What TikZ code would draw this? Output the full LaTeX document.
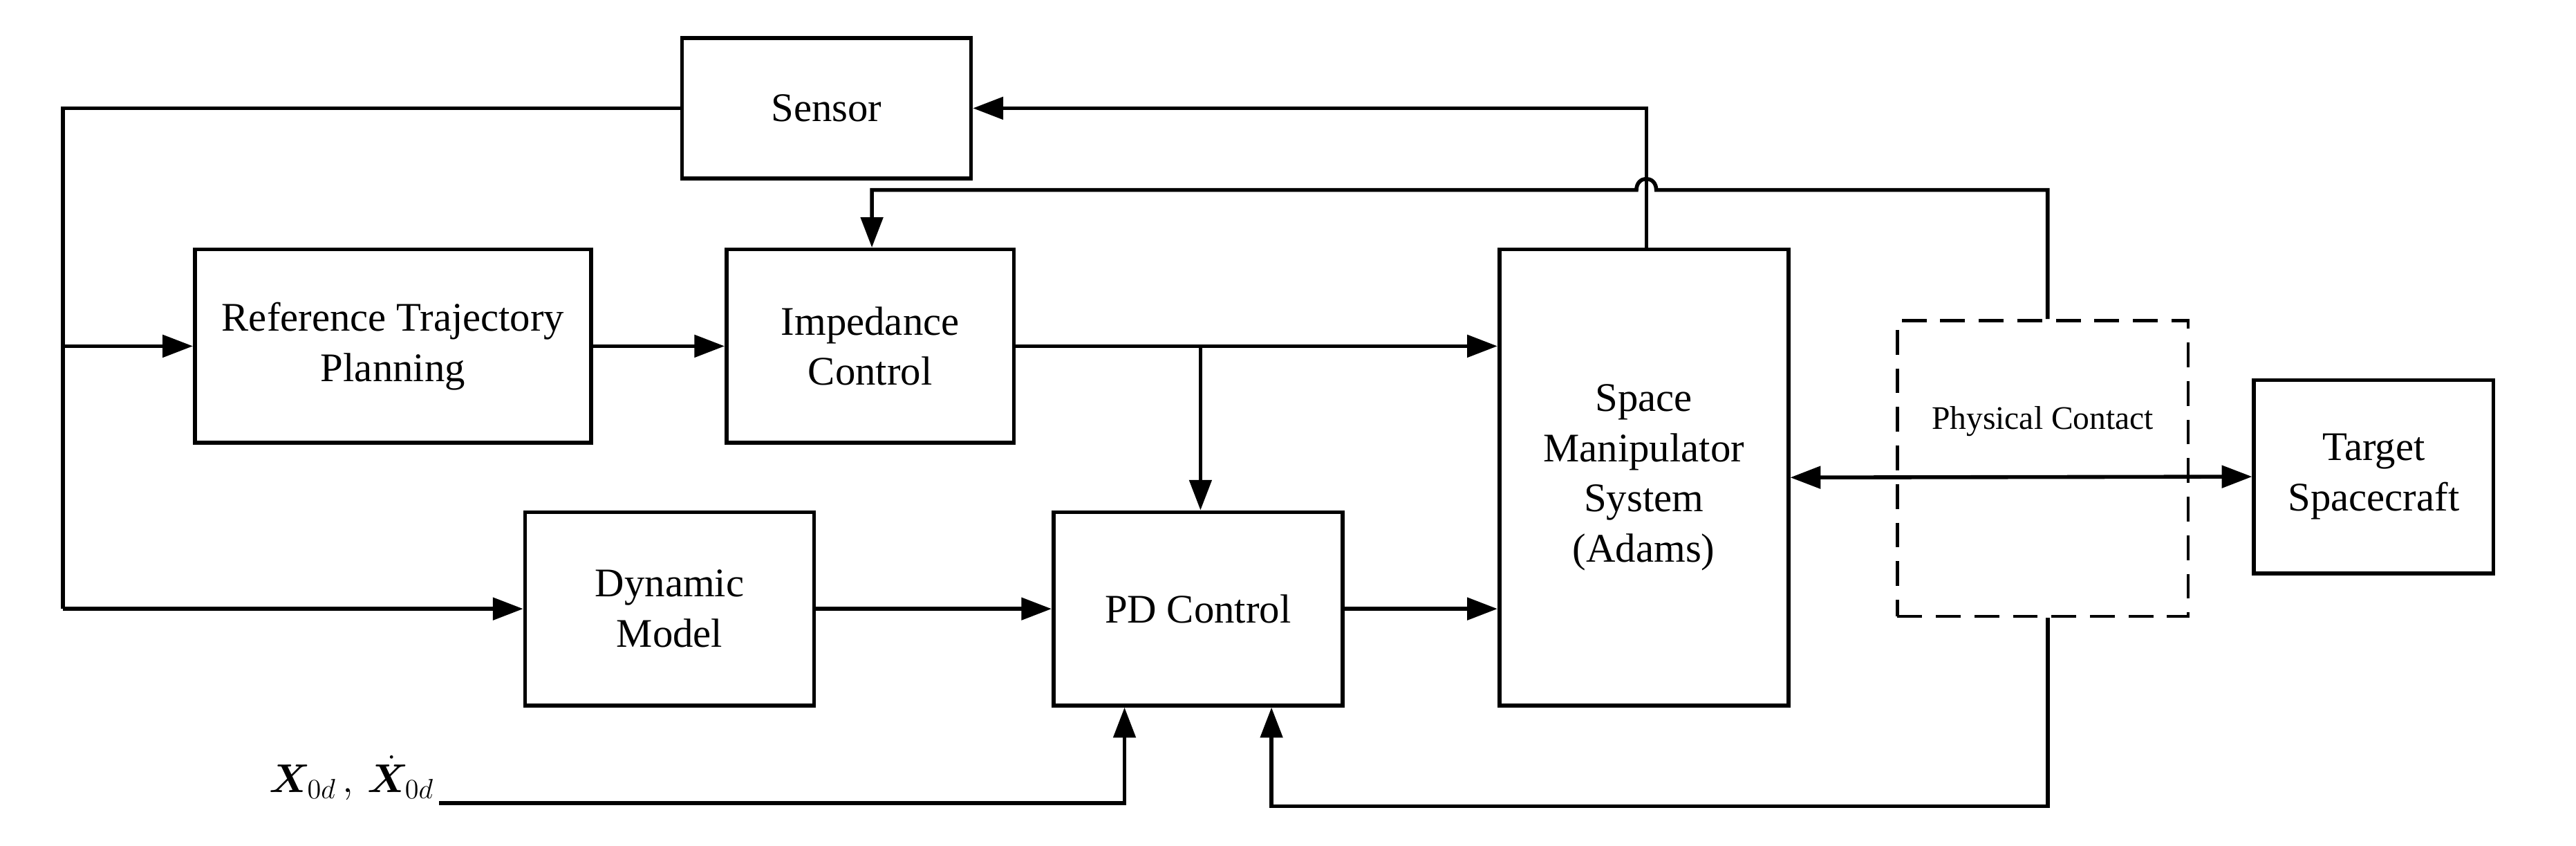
\documentclass[tikz,border=0pt]{standalone}
\usepackage{amsmath,bm}
\usepackage{fontspec}
\setmainfont{Liberation Serif}
\usetikzlibrary{arrows.meta}
\begin{document}
\begin{tikzpicture}[x=0.03cm,y=-0.03cm,
  box/.style={draw,line width=2pt,align=center,inner sep=0pt,font=\fontsize{21}{26}\selectfont},
  ln/.style={line width=2pt},
  ar/.style={ln,-{Triangle[length=0.55cm,width=0.4cm]}},
  dar/.style={ln,{Triangle[length=0.55cm,width=0.4cm]}-{Triangle[length=0.55cm,width=0.4cm]}}]
\useasboundingbox (0,0) rectangle (1560,512);
\node[box,minimum width=5.25cm,minimum height=2.55cm] (sen) at (500.5,65.5) {Sensor};
\node[box,minimum width=7.2cm,minimum height=3.51cm] (ref) at (238,209.5) {Reference Trajectory\\Planning};
\node[box,minimum width=5.22cm,minimum height=3.51cm] (imp) at (527,209.5) {Impedance\\Control};
\node[box,minimum width=5.25cm,minimum height=8.28cm] (sms) at (995.5,289) {Space\\Manipulator\\System\\(Adams)};
\node[draw,dash pattern=on 0.45cm off 0.25cm,line width=1.6pt,minimum width=5.28cm,minimum height=5.37cm] (pc) at (1237,283.5) {};
\node[font=\fontsize{17}{20}\selectfont] (pct) at (1237,255) {Physical Contact};
\node[box,minimum width=4.35cm,minimum height=3.51cm] (tgt) at (1437.5,288.5) {Target\\Spacecraft};
\node[box,minimum width=5.25cm,minimum height=3.51cm] (dyn) at (405.5,368.5) {Dynamic\\Model};
\node[box,minimum width=5.25cm,minimum height=3.51cm] (pd) at (725.5,368.5) {PD Control};
\node[anchor=east,font=\fontsize{21}{26}\selectfont,inner sep=0pt] (x0) at (263,471) {$\bm{X}_{0d}\,,\,\dot{\bm{X}}_{0d}$};
\coordinate (x0e) at (266,486);
\coordinate (l1) at (38,65.5);
\coordinate (l2) at (38,368.5);
\draw[ln] (sen.west) -- (l1) -- (l2);
\draw[ar] (38,209.5) -- (ref.west);
\draw[ar] (l2) -- (dyn.west);
\draw[ar] (ref.east) -- (imp.west);
\draw[ar] (imp.east |- 0,209.5) -- (sms.west |- 0,209.5);
\draw[ar] (727,209.5) -- (pd.north -| 727,0);
\draw[ar] (dyn.east) -- (pd.west);
\draw[ar] (pd.east) -- (sms.west |- 0,368.5);
\draw[ar] (sms.north -| 997,0) -- (997,65.5) -- (sen.east);
\draw[ar] (pc.north -| 1240,0) -- (1240,115) -- (1003,115) .. controls (1003,106) and (991,106) .. (991,115) -- (528,115) -- (imp.north -| 528,0);
\draw[dar] (sms.east |- 0,289) -- (tgt.west);
\draw[ar] (pc.south -| 1240,0) -- (1240,488) -- (770,488) -- (pd.south -| 770,0);
\draw[ar] (x0e) -- (681,486) -- (pd.south -| 681,0);
\end{tikzpicture}
\end{document}
